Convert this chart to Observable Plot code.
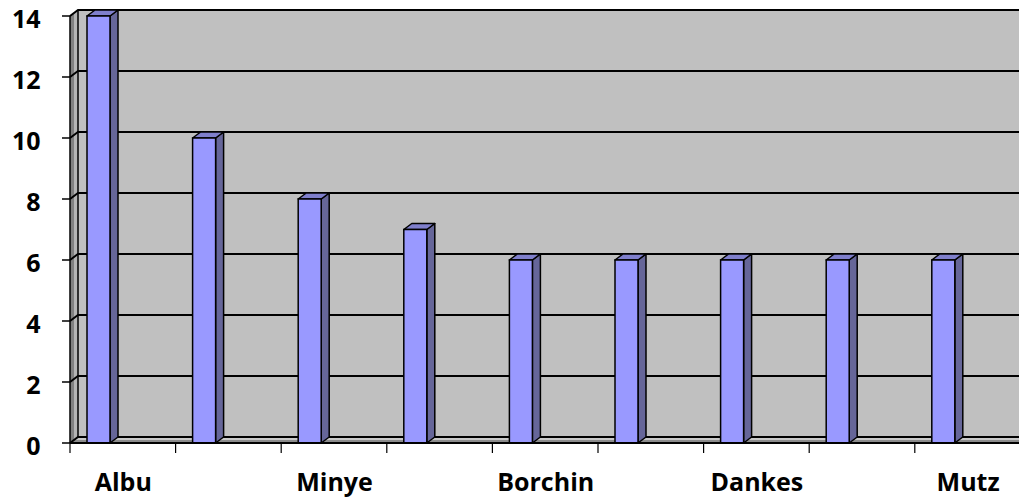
<!DOCTYPE html>
<html><head><meta charset="utf-8">
<script src="https://cdn.jsdelivr.net/npm/d3@7"></script>
<script src="https://cdn.jsdelivr.net/npm/@observablehq/plot@0.6"></script>
<style>body{margin:0;background:#fff;} svg{display:block}</style>
</head><body><div id="chart"></div>
<script>
const labels = ["Albu", "", "Minye", "", "Borchin", "", "Dankes", "", "Mutz"];
const values = [14, 10, 8, 7, 6, 6, 6, 6, 6];
const yTicks = [0, 2, 4, 6, 8, 10, 12, 14];
const idx = d3.range(values.length);

const W = 1019, H = 500;
const DX = 8, DY = -6;          // 3D depth offset (pixels)
const BAR_L = 17, BAR_R = 40;   // bar front face position inside its band
const xRange = [70, 1020.4];
const bw = (xRange[1] - xRange[0]) / idx.length;
const FONT = "'Open Sans', Lato, sans-serif";

// back wall, left wall, floor, gridlines
const walls = (index, {x, y}) => {
  const g = d3.create("svg:g");
  const x0 = xRange[0], x1 = W + 2;
  const yb = y(0), yt = y(14);
  g.append("rect").attr("x", x0 + DX).attr("y", yt + DY).attr("width", x1 - x0 - DX).attr("height", yb - yt)
    .attr("fill", "#c0c0c0");
  const h = DX / 2, hv = DY / 2;
  g.append("path").attr("d", `M${x0},${yt}L${x0 + h},${yt + hv}L${x0 + h},${yb + hv}L${x0},${yb}Z`).attr("fill", "#808080");
  g.append("path").attr("d", `M${x0 + h},${yt + hv}L${x0 + DX},${yt + DY}L${x0 + DX},${yb + DY}L${x0 + h},${yb + hv}Z`).attr("fill", "#b4b4b4");
  g.append("path").attr("d", `M${x0 + h},${yb + hv}L${x0 + DX},${yb + DY}L${x1},${yb + DY}L${x1},${yb + hv}Z`).attr("fill", "#c8c8c8");
  g.append("path").attr("d", `M${x0},${yb}L${x0 + h},${yb + hv}L${x1},${yb + hv}L${x1},${yb}Z`).attr("fill", "#8c8c8c");
  for (const v of yTicks) {
    const yy = y(v);
    g.append("path").attr("d", `M${x0},${yy}L${x0 + DX},${yy + DY}L${x1},${yy + DY}`)
      .attr("fill", "none").attr("stroke", "#000").attr("stroke-width", 2);
  }
  g.append("path").attr("d", `M${x0 + DX},${yt + DY}L${x0 + DX},${yb + DY}`).attr("stroke", "#000").attr("stroke-width", 1.5);
  return g.node();
};

// side and top faces of the 3D bars
const barFaces = (index, {x, y}) => {
  const g = d3.create("svg:g");
  for (const i of idx) {
    const xl = x(i) + BAR_L, xr = x(i) + BAR_R;
    const yv = y(values[i]), yb = y(0);
    g.append("path").attr("d", `M${xr},${yv}L${xr + DX},${yv + DY}L${xr + DX},${yb + DY}L${xr},${yb}Z`)
      .attr("fill", "#666699").attr("stroke", "#000").attr("stroke-width", 1.5).attr("stroke-linejoin", "round");
    g.append("path").attr("d", `M${xl},${yv}L${xl + DX},${yv + DY}L${xr + DX},${yv + DY}L${xr},${yv}Z`)
      .attr("fill", "#7f7fcc").attr("stroke", "#000").attr("stroke-width", 1.5).attr("stroke-linejoin", "round");
  }
  return g.node();
};

// front axis lines, value ticks and category ticks (at band boundaries)
const axisLines = (index, {x, y}) => {
  const g = d3.create("svg:g");
  const yb = y(0);
  g.append("path").attr("d", `M${xRange[0]},${yb}L${W + 2},${yb}`).attr("stroke", "#000").attr("stroke-width", 2);
  g.append("path").attr("d", `M${xRange[0]},${y(14)}L${xRange[0]},${yb}`).attr("stroke", "#000").attr("stroke-width", 1.5);
  for (const v of yTicks) {
    g.append("path").attr("d", `M${xRange[0] - 8},${y(v)}L${xRange[0]},${y(v)}`).attr("stroke", "#000").attr("stroke-width", 1.5);
  }
  for (const i of idx) {
    g.append("path").attr("d", `M${x(i)},${yb}L${x(i)},${yb + 10}`).attr("stroke", "#000").attr("stroke-width", 1.2);
  }
  return g.node();
};

const chart = Plot.plot({
  width: W, height: H,
  marginLeft: 70, marginRight: 0, marginTop: 16, marginBottom: 57,
  style: {fontFamily: FONT, background: "white", overflow: "visible"},
  x: {type: "band", domain: idx, range: xRange, padding: 0, round: false},
  y: {domain: [0, 14], range: [443, 16]},
  marks: [
    walls,
    barFaces,
    Plot.barY(idx, {x: d => d, y: d => values[d], fill: "#9999ff", stroke: "#000", strokeWidth: 1.5,
      insetLeft: BAR_L, insetRight: bw - BAR_R}),
    axisLines,
    Plot.axisY(yTicks, {tickSize: 0, tickPadding: 30, dy: 3, fontSize: 25, fontWeight: "bold", fill: "#000",
      label: null}),
    Plot.axisX(idx, {tickSize: 0, tickPadding: 30, tickFormat: i => labels[i], fontSize: 25,
      fontWeight: "bold", fill: "#000", label: null})
  ]
});
document.getElementById("chart").appendChild(chart);
</script>
</body></html>
